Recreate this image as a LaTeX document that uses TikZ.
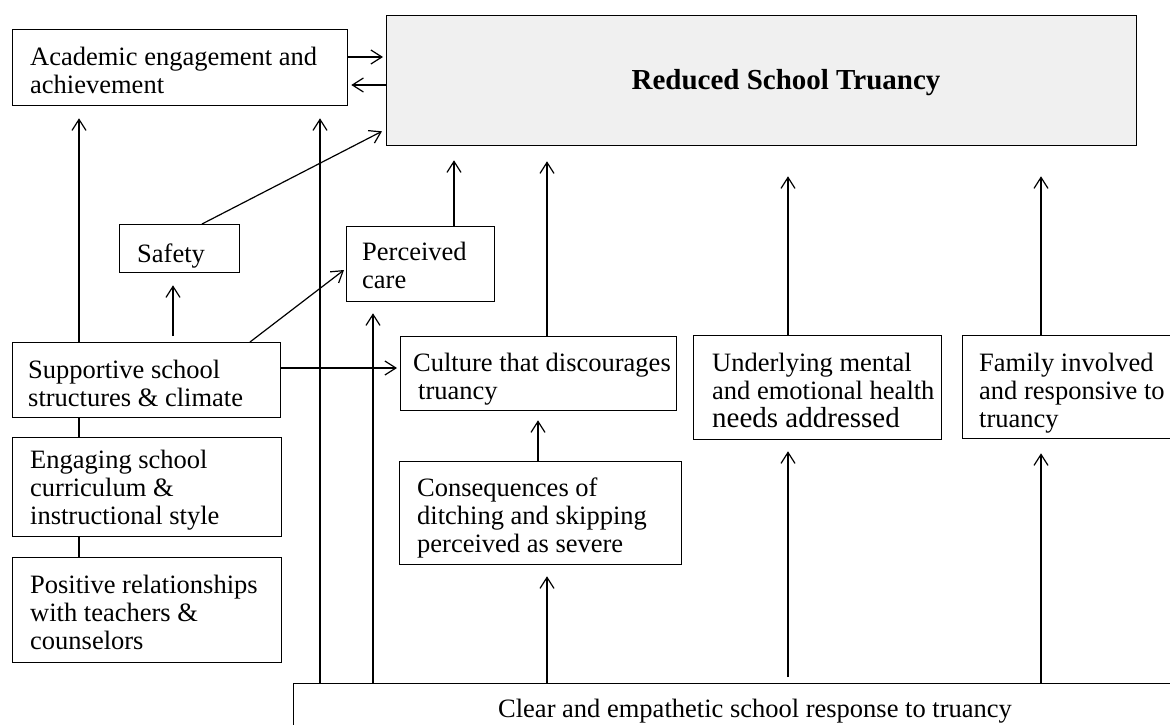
\documentclass[tikz,border=0pt]{standalone}
\usepackage{fontspec}
\setmainfont{Liberation Serif}
\usetikzlibrary{calc,arrows.meta}
\definecolor{boxgray}{RGB}{240,240,240}
\tikzset{
  box/.style={draw, line width=1.3pt, inner sep=0pt, anchor=north west},
  txt/.style={inner sep=0pt, anchor=north west, align=left,
              font=\fontsize{26.5}{28}\selectfont, execute at begin node=\strut},
  arr/.style={-{Straight Barb[length=11pt,width=14pt]}, line width=1.2pt},
  ln/.style={line width=1.2pt}
}
\begin{document}
\begin{tikzpicture}[x=1pt,y=-1pt]
\useasboundingbox (0,0) rectangle (1170,725);
% boxes
\node[box, fill=boxgray, minimum width=750pt, minimum height=130pt] (red) at (386,15) {};
\node[box, minimum width=335pt, minimum height=76pt] (acad) at (12,29) {};
\node[box, minimum width=120pt, minimum height=48pt] (safety) at (119,224) {};
\node[box, minimum width=148pt, minimum height=75pt] (perc) at (346,226) {};
\node[box, minimum width=268pt, minimum height=75pt] (supp) at (12,342) {};
\node[box, minimum width=276pt, minimum height=74pt] (cult) at (400,336) {};
\node[box, minimum width=248pt, minimum height=104pt] (under) at (693,335) {};
\node[box, minimum width=230pt, minimum height=103pt] (fam) at (962,335) {};
\node[box, minimum width=282pt, minimum height=103pt] (cons) at (399,461) {};
\node[box, minimum width=269pt, minimum height=99pt] (eng) at (12,437) {};
\node[box, minimum width=269pt, minimum height=105pt] (pos) at (12,557) {};
\node[box, minimum width=940pt, minimum height=80pt] (resp) at (293,683) {};
% texts
\node[inner sep=0pt, anchor=base, font=\fontsize{29}{30}\selectfont\bfseries] (redT) at (786,89) {Reduced School Truancy};
\node[txt] (acadT) at (30,47.4) {Academic engagement and\\achievement};
\node[txt] (safetyT) at (137,242.4) {Safety};
\node[txt] (percT) at (362,242.4) {Perceived\\care};
\node[txt] (suppT) at (28,360.4) {Supportive school\\structures \& climate};
\node[txt] (cultT) at (413,353.4) {Culture that discourages\\\hspace*{5pt}truancy};
\node[txt] (underT) at (712,353.4) {Underlying mental\\and emotional health\\{\fontsize{29}{28}\selectfont needs addressed}};
\node[txt] (famT) at (979,353.4) {Family involved\\and responsive to\\truancy};
\node[txt] (consT) at (417,477.4) {Consequences of\\ditching and skipping\\perceived as severe};
\node[txt] (engT) at (30,450.4) {Engaging school\\curriculum \&\\instructional style};
\node[txt] (posT) at (30,575.4) {Positive relationships\\with teachers \&\\counselors};
\node[inner sep=0pt, anchor=base, font=\fontsize{26.5}{28}\selectfont] (respT) at (755,717) {Clear and empathetic school response to truancy};
% connectors
\draw[arr] ($(acad.north east)+(0,28)$) -- ($(red.north west)+(-3,42)$);
\draw[arr] ($(red.north west)+(0,70)$) -- ($(acad.north east)+(3,56)$);
\draw[arr] ($(supp.north west)+(67,0)$) -- ($(acad.south west)+(67,12)$);
\draw[arr] ($(resp.north west)+(27,0)$) -- ($(acad.south west)+(308,12)$);
\draw[arr] ($(supp.north west)+(161,-6)$) -- ($(safety.south west)+(54,12)$);
\draw[arr] ($(safety.north west)+(83,0)$) -- ($(red.south west)+(-4,-15)$);
\draw[arr] ($(supp.north west)+(238,0)$) -- ($(perc.north west)+(-2,44)$);
\draw[arr] ($(perc.north west)+(108,0)$) -- ($(red.south west)+(68,14)$);
\draw[arr] ($(resp.north west)+(80,0)$) -- ($(perc.south west)+(27,11)$);
\draw[arr] ($(supp.north east)+(0,26)$) -- ($(cult.north west)+(-3,32)$);
\draw[arr] ($(cult.north west)+(147,0)$) -- ($(red.south west)+(161,15)$);
\draw[arr] ($(cons.north west)+(139,0)$) -- ($(cult.south west)+(138,9)$);
\draw[arr] ($(resp.north west)+(254,0)$) -- ($(cons.south west)+(148,11)$);
\draw[arr] ($(under.north west)+(95,0)$) -- ($(red.south west)+(402,30)$);
\draw[arr] ($(resp.north west)+(495,-6)$) -- ($(under.south west)+(95,11)$);
\draw[arr] ($(fam.north west)+(79,0)$) -- ($(red.south west)+(655,30)$);
\draw[arr] ($(resp.north west)+(748,0)$) -- ($(fam.south west)+(79,14)$);
\draw[ln] ($(supp.south west)+(67,0)$) -- ($(eng.north west)+(67,0)$);
\draw[ln] ($(eng.south west)+(67,0)$) -- ($(pos.north west)+(67,0)$);
\end{tikzpicture}
\end{document}
